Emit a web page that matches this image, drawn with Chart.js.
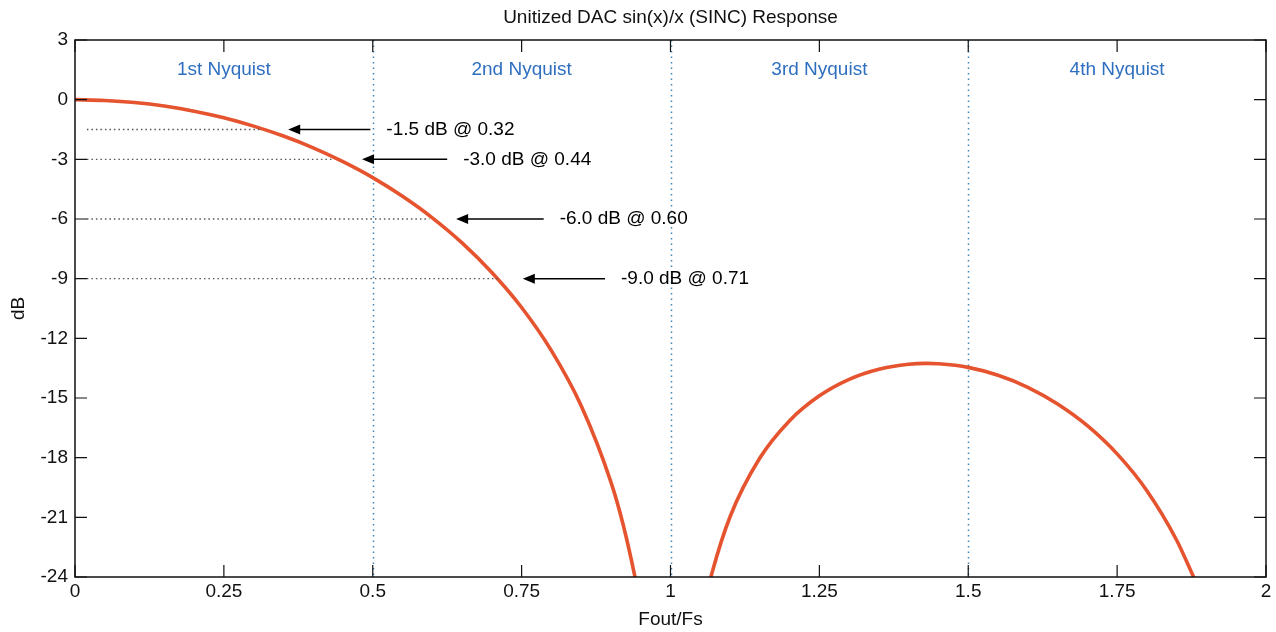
<!DOCTYPE html>
<html><head><meta charset="utf-8">
<script src="https://cdn.jsdelivr.net/npm/chart.js@4.4.1/dist/chart.umd.min.js"></script>
<style>html,body{margin:0;padding:0;background:#fff}#wrap{width:1276px;height:632px}</style>
</head><body><div id="wrap"><canvas id="c" width="1276" height="632"></canvas></div>
<script>
// Fout/Fs values and dB response
const mainLobeX = [0,0.05,0.1,0.15,0.2,0.25,0.3,0.35,0.4,0.45,0.5,0.55,0.6,0.65,0.7,0.75,0.8,0.85,0.9,0.92,0.94,0.945];
const mainLobeDb = [0,-0.04,-0.14,-0.32,-0.58,-0.91,-1.33,-1.83,-2.42,-3.12,-3.92,-4.86,-5.94,-7.2,-8.69,-10.45,-12.62,-15.39,-19.23,-21.31,-23.95,-24.74];
const sideLobeX = [1.06,1.07,1.1,1.15,1.2,1.25,1.3,1.35,1.4,1.43,1.45,1.5,1.55,1.6,1.65,1.7,1.75,1.8,1.85,1.88];
const sideLobeDb = [-24.99,-23.76,-20.97,-18.02,-16.14,-14.89,-14.06,-13.55,-13.3,-13.26,-13.28,-13.46,-13.86,-14.46,-15.3,-16.39,-17.81,-19.66,-22.15,-24.11];
const xTicks = [0,0.25,0.5,0.75,1,1.25,1.5,1.75,2];
const xTickLabels = ['0','0.25','0.5','0.75','1','1.25','1.5','1.75','2'];
const yTicks = [3,0,-3,-6,-9,-12,-15,-18,-21,-24];
const zoneLabels = ['1st Nyquist','2nd Nyquist','3rd Nyquist','4th Nyquist'];
const zoneCenters = [0.25,0.75,1.25,1.75];
const zoneBounds = [0.5,1,1.5];
const markerDb = [-1.5,-3.0,-6.0,-9.0];
const markerFreq = [0.32,0.44,0.60,0.71];
const markerLabels = ['-1.5 dB @ 0.32','-3.0 dB @ 0.44','-6.0 dB @ 0.60','-9.0 dB @ 0.71'];
const arrowTip = [0.358,0.482,0.64,0.752];
const arrowTail = [0.496,0.625,0.787,0.89];
const refLineEnd = [0.31,0.435,0.595,0.71];

const toPts = (xs, ys) => xs.map((x,i)=>({x, y: ys[i]}));
const curveColor = '#e5532f';
const datasets = [
  {data: toPts(mainLobeX, mainLobeDb), borderColor: curveColor, borderWidth: 3.6, pointRadius: 0, tension: 0.4, cubicInterpolationMode: 'monotone'},
  {data: toPts(sideLobeX, sideLobeDb), borderColor: curveColor, borderWidth: 3.6, pointRadius: 0, tension: 0.4, cubicInterpolationMode: 'monotone'}
];
markerDb.forEach((d,i)=>{
  datasets.unshift({data:[{x:0.02,y:d},{x:refLineEnd[i],y:d}], borderColor:'#555', borderWidth:1.3, borderDash:[1.5,3], pointRadius:0, tension:0});
});

const FONT = "'Liberation Sans', Arial, sans-serif";
const deco = {
  id: 'deco',
  beforeDatasetsDraw(chart){
    const {ctx, chartArea: a, scales: {x, y}} = chart;
    ctx.save();
    ctx.strokeStyle = '#3f86b8'; ctx.lineWidth = 1.5; ctx.setLineDash([1.5,4]);
    zoneBounds.forEach(v=>{ const px = Math.round(x.getPixelForValue(v))+0.5; ctx.beginPath(); ctx.moveTo(px,a.top); ctx.lineTo(px,a.bottom); ctx.stroke(); });
    ctx.setLineDash([]);
    ctx.restore();
  },
  afterDatasetsDraw(chart){
    const {ctx, chartArea: a, scales: {x, y}} = chart;
    ctx.save();
    ctx.strokeStyle = '#111'; ctx.lineWidth = 1.5;
    ctx.strokeRect(a.left, a.top, a.right-a.left, a.bottom-a.top);
    ctx.lineWidth = 1.2;
    xTicks.forEach(v=>{ const px = x.getPixelForValue(v); ctx.beginPath(); ctx.moveTo(px,a.bottom); ctx.lineTo(px,a.bottom-12); ctx.moveTo(px,a.top); ctx.lineTo(px,a.top+12); ctx.stroke(); });
    yTicks.forEach(v=>{ const py = y.getPixelForValue(v); ctx.beginPath(); ctx.moveTo(a.left,py); ctx.lineTo(a.left+12,py); ctx.moveTo(a.right,py); ctx.lineTo(a.right-12,py); ctx.stroke(); });
    ctx.fillStyle = '#2f6fc0'; ctx.font = '19px ' + FONT; ctx.textAlign = 'center'; ctx.textBaseline = 'middle';
    zoneLabels.forEach((t,i)=> ctx.fillText(t, x.getPixelForValue(zoneCenters[i]), y.getPixelForValue(1.5)));
    ctx.strokeStyle = '#000'; ctx.fillStyle = '#000'; ctx.lineWidth = 1.5;
    markerDb.forEach((d,i)=>{
      const py = y.getPixelForValue(d), x1 = x.getPixelForValue(arrowTip[i]), x2 = x.getPixelForValue(arrowTail[i]);
      ctx.beginPath(); ctx.moveTo(x1+8,py); ctx.lineTo(x2,py); ctx.stroke();
      ctx.beginPath(); ctx.moveTo(x1,py); ctx.lineTo(x1+12,py-5); ctx.lineTo(x1+12,py+5); ctx.closePath(); ctx.fill();
      ctx.font = '19px ' + FONT; ctx.textAlign = 'left';
      ctx.fillText(markerLabels[i], x2+16, py);
    });
    ctx.restore();
  }
};

new Chart(document.getElementById('c'), {
  type: 'line',
  data: {datasets},
  options: {
    responsive: false, animation: false, devicePixelRatio: 1,
    layout: {padding: {top: 0, right: 10, left: 0, bottom: 0}},
    plugins: {
      legend: {display: false}, tooltip: {enabled: false},
      title: {display: true, fullSize: false, text: 'Unitized DAC sin(x)/x (SINC) Response', color: '#111', font: {family: FONT, size: 19, weight: 'normal'}, padding: {top: 6, bottom: 11.2}}
    },
    scales: {
      x: {
        type: 'linear', min: 0, max: 2,
        afterBuildTicks: s => { s.ticks = xTicks.map(v=>({value:v})); },
        afterFit: s => { s.height = 55; },
        grid: {display: false, drawTicks: false},
        border: {display: false},
        ticks: {color: '#111', font: {family: FONT, size: 19}, padding: 3, maxRotation: 0, autoSkip: false, callback: (v)=> xTickLabels[xTicks.indexOf(v)] ?? ''},
        title: {display: true, text: 'Fout/Fs', color: '#111', font: {family: FONT, size: 19}, padding: {top: 0, bottom: 1}}
      },
      y: {
        type: 'linear', min: -24, max: 3,
        afterBuildTicks: s => { s.ticks = yTicks.map(v=>({value:v})); },
        afterFit: s => { s.width = 75; },
        grid: {display: false, drawTicks: false},
        border: {display: false},
        ticks: {color: '#111', font: {family: FONT, size: 19}, padding: 7, autoSkip: false},
        title: {display: true, text: 'dB', color: '#111', font: {family: FONT, size: 19}, padding: {top: 7, bottom: 0}}
      }
    }
  },
  plugins: [deco]
});
</script></body></html>
